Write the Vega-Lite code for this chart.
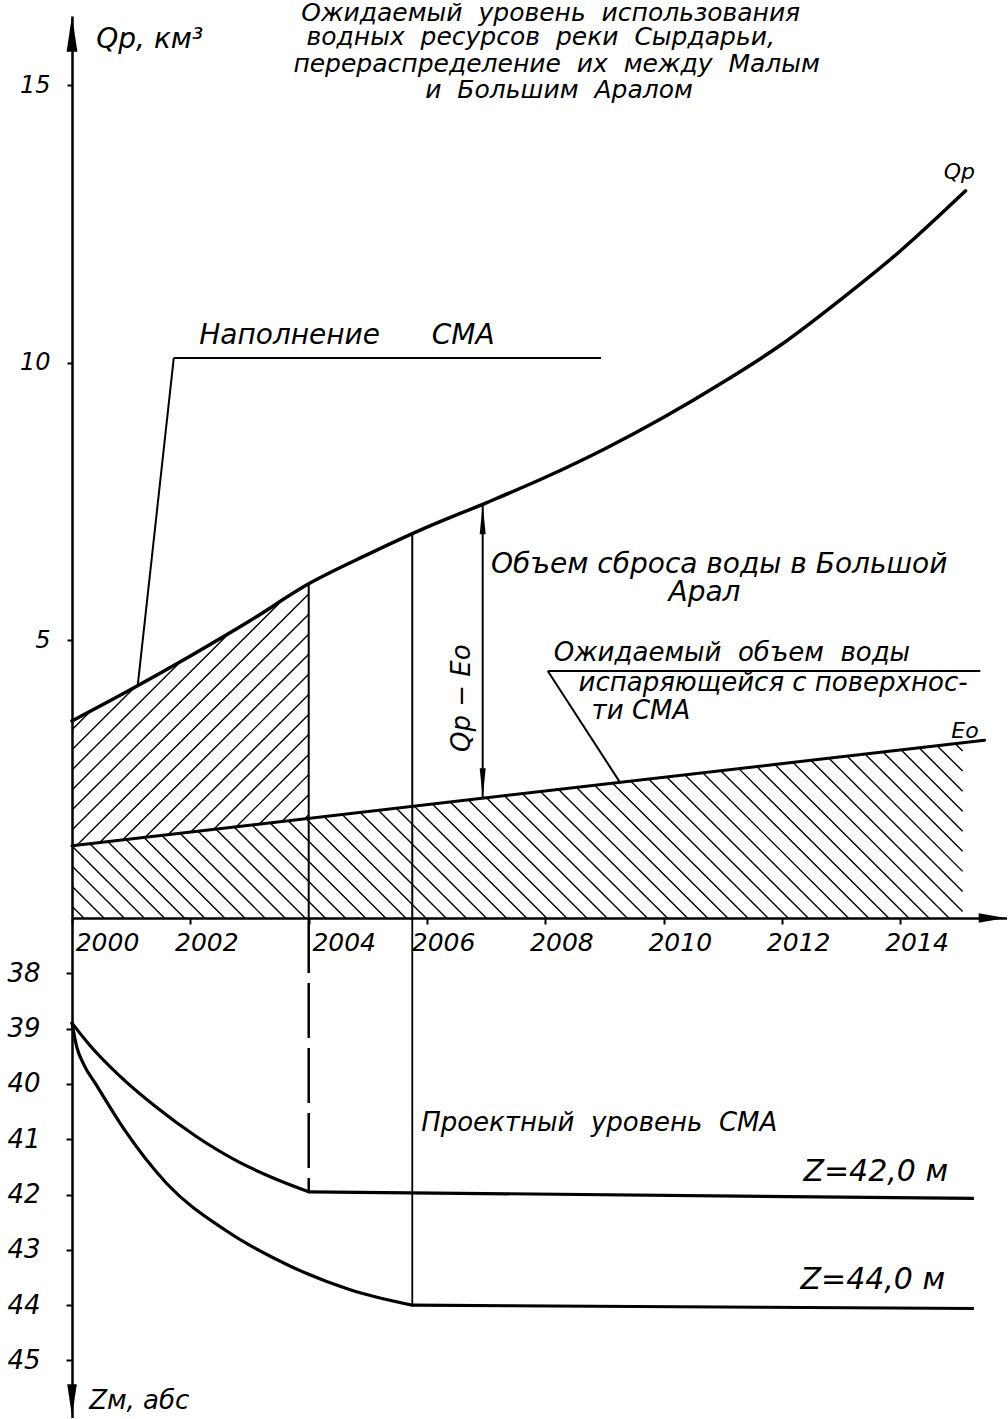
{
  "$schema": "https://vega.github.io/schema/vega-lite/v6.json",
  "autosize": {"type": "pad"},
  "padding": {"left": 6, "top": 0, "right": 0, "bottom": 0},
  "background": "white",
  "bounds": "flush",
  "spacing": 0,
  "config": {
    "view": {"stroke": null},
    "axis": {"domainColor": "black", "domainWidth": 2.5, "tickColor": "black", "tickWidth": 2, "grid": false, "labelColor": "black", "labelFont": "DejaVu Sans", "labelFontStyle": "italic", "zindex": 1},
    "text": {"font": "DejaVu Sans", "fontStyle": "italic", "color": "black"}
  },
  "datasets": {
    "qp": [
      {"x": 2000, "y": 3.55}, {"x": 2001, "y": 4.12}, {"x": 2002, "y": 4.72}, {"x": 2003, "y": 5.35},
      {"x": 2004, "y": 6.02}, {"x": 2005, "y": 6.55}, {"x": 2006, "y": 7.04}, {"x": 2007, "y": 7.48},
      {"x": 2008, "y": 7.94}, {"x": 2009, "y": 8.45}, {"x": 2010, "y": 9.02}, {"x": 2011, "y": 9.65},
      {"x": 2012, "y": 10.34}, {"x": 2013, "y": 11.15}, {"x": 2014, "y": 12.02}, {"x": 2015.1, "y": 13.10}
    ],
    "eo": [{"x": 2000, "y": 1.30}, {"x": 2015.42, "y": 3.204}],
    "hatchB": [
      {"x": 2000, "y": 0.213, "x2": 2000.20, "y2": 0},
      {"x": 2000, "y": 0.574, "x2": 2000.54, "y2": 0},
      {"x": 2000, "y": 0.935, "x2": 2000.88, "y2": 0},
      {"x": 2000, "y": 1.297, "x2": 2001.22, "y2": 0},
      {"x": 2000.302, "y": 1.337, "x2": 2001.56, "y2": 0},
      {"x": 2000.607, "y": 1.375, "x2": 2001.90, "y2": 0},
      {"x": 2000.911, "y": 1.413, "x2": 2002.24, "y2": 0},
      {"x": 2001.216, "y": 1.450, "x2": 2002.58, "y2": 0},
      {"x": 2001.520, "y": 1.488, "x2": 2002.92, "y2": 0},
      {"x": 2001.825, "y": 1.525, "x2": 2003.26, "y2": 0},
      {"x": 2002.130, "y": 1.563, "x2": 2003.60, "y2": 0},
      {"x": 2002.434, "y": 1.601, "x2": 2003.94, "y2": 0},
      {"x": 2002.739, "y": 1.638, "x2": 2004.28, "y2": 0},
      {"x": 2003.043, "y": 1.676, "x2": 2004.62, "y2": 0},
      {"x": 2003.348, "y": 1.713, "x2": 2004.96, "y2": 0},
      {"x": 2003.653, "y": 1.751, "x2": 2005.30, "y2": 0},
      {"x": 2003.957, "y": 1.789, "x2": 2005.64, "y2": 0},
      {"x": 2004.262, "y": 1.826, "x2": 2005.98, "y2": 0},
      {"x": 2004.566, "y": 1.864, "x2": 2006.32, "y2": 0},
      {"x": 2004.871, "y": 1.902, "x2": 2006.66, "y2": 0},
      {"x": 2005.176, "y": 1.939, "x2": 2007.00, "y2": 0},
      {"x": 2005.480, "y": 1.977, "x2": 2007.34, "y2": 0},
      {"x": 2005.785, "y": 2.014, "x2": 2007.68, "y2": 0},
      {"x": 2006.089, "y": 2.052, "x2": 2008.02, "y2": 0},
      {"x": 2006.394, "y": 2.090, "x2": 2008.36, "y2": 0},
      {"x": 2006.699, "y": 2.127, "x2": 2008.70, "y2": 0},
      {"x": 2007.003, "y": 2.165, "x2": 2009.04, "y2": 0},
      {"x": 2007.308, "y": 2.202, "x2": 2009.38, "y2": 0},
      {"x": 2007.612, "y": 2.240, "x2": 2009.72, "y2": 0},
      {"x": 2007.917, "y": 2.278, "x2": 2010.06, "y2": 0},
      {"x": 2008.222, "y": 2.315, "x2": 2010.40, "y2": 0},
      {"x": 2008.526, "y": 2.353, "x2": 2010.74, "y2": 0},
      {"x": 2008.831, "y": 2.391, "x2": 2011.08, "y2": 0},
      {"x": 2009.135, "y": 2.428, "x2": 2011.42, "y2": 0},
      {"x": 2009.440, "y": 2.466, "x2": 2011.76, "y2": 0},
      {"x": 2009.745, "y": 2.503, "x2": 2012.10, "y2": 0},
      {"x": 2010.049, "y": 2.541, "x2": 2012.44, "y2": 0},
      {"x": 2010.354, "y": 2.579, "x2": 2012.78, "y2": 0},
      {"x": 2010.658, "y": 2.616, "x2": 2013.12, "y2": 0},
      {"x": 2010.963, "y": 2.654, "x2": 2013.46, "y2": 0},
      {"x": 2011.268, "y": 2.691, "x2": 2013.80, "y2": 0},
      {"x": 2011.572, "y": 2.729, "x2": 2014.14, "y2": 0},
      {"x": 2011.877, "y": 2.767, "x2": 2014.48, "y2": 0},
      {"x": 2012.181, "y": 2.804, "x2": 2014.82, "y2": 0},
      {"x": 2012.486, "y": 2.842, "x2": 2015.05, "y2": 0.117},
      {"x": 2012.791, "y": 2.879, "x2": 2015.05, "y2": 0.478},
      {"x": 2013.095, "y": 2.917, "x2": 2015.05, "y2": 0.840},
      {"x": 2013.400, "y": 2.955, "x2": 2015.05, "y2": 1.201},
      {"x": 2013.704, "y": 2.992, "x2": 2015.05, "y2": 1.563},
      {"x": 2014.009, "y": 3.030, "x2": 2015.05, "y2": 1.924},
      {"x": 2014.314, "y": 3.068, "x2": 2015.05, "y2": 2.285},
      {"x": 2014.618, "y": 3.105, "x2": 2015.05, "y2": 2.647},
      {"x": 2014.923, "y": 3.143, "x2": 2015.05, "y2": 3.008}
    ],
    "hatchA": [
      {"x": 2003.930, "y": 1.785, "x2": 2004, "y2": 1.860},
      {"x": 2003.545, "y": 1.738, "x2": 2004, "y2": 2.221},
      {"x": 2003.161, "y": 1.690, "x2": 2004, "y2": 2.583},
      {"x": 2002.776, "y": 1.643, "x2": 2004, "y2": 2.944},
      {"x": 2002.391, "y": 1.595, "x2": 2004, "y2": 3.306},
      {"x": 2002.007, "y": 1.548, "x2": 2004, "y2": 3.667},
      {"x": 2001.622, "y": 1.500, "x2": 2004, "y2": 4.028},
      {"x": 2001.237, "y": 1.453, "x2": 2004, "y2": 4.390},
      {"x": 2000.853, "y": 1.405, "x2": 2004, "y2": 4.751},
      {"x": 2000.468, "y": 1.358, "x2": 2004, "y2": 5.113},
      {"x": 2000.083, "y": 1.310, "x2": 2004, "y2": 5.474},
      {"x": 2000, "y": 1.584, "x2": 2004, "y2": 5.836},
      {"x": 2000, "y": 1.945, "x2": 2004, "y2": 6.197},
      {"x": 2000, "y": 2.307, "x2": 2004, "y2": 6.558},
      {"x": 2000, "y": 2.668, "x2": 2004, "y2": 6.920},
      {"x": 2000, "y": 3.030, "x2": 2004, "y2": 7.281},
      {"x": 2000, "y": 3.391, "x2": 2004, "y2": 7.643}
    ],
    "segs": [
      {"x": 2004, "y": 0, "x2": 2004, "y2": 6.02},
      {"x": 2005.75, "y": 0, "x2": 2005.75, "y2": 6.93},
      {"x": 2001.72, "y": 10.09, "x2": 2008.94, "y2": 10.09},
      {"x": 2001.72, "y": 10.09, "x2": 2001.11, "y2": 4.18},
      {"x": 2008.04, "y": 4.45, "x2": 2015.35, "y2": 4.45},
      {"x": 2008.04, "y": 4.45, "x2": 2009.26, "y2": 2.444},
      {"x": 2006.94, "y": 2.157, "x2": 2006.94, "y2": 7.455}
    ],
    "titleText": [
      {"x": 2008.09, "y": 16.16, "text": "Ожидаемый\u00a0 уровень\u00a0 использования"},
      {"x": 2007.92, "y": 15.73, "text": "водных\u00a0 ресурсов\u00a0 реки\u00a0 Сырдарьи,"},
      {"x": 2008.19, "y": 15.24, "text": "перераспределение\u00a0 их\u00a0 между\u00a0 Малым"},
      {"x": 2008.23, "y": 14.77, "text": "и\u00a0 Большим\u00a0 Аралом"}
    ],
    "bigText": [
      {"x": 2002.15, "y": 10.34, "text": "Наполнение"},
      {"x": 2006.08, "y": 10.34, "text": "СМА"},
      {"x": 2007.08, "y": 6.22, "text": "Объем сброса воды в Большой"},
      {"x": 2010.08, "y": 5.71, "text": "Арал"},
      {"x": 2000.41, "y": 15.68, "text": "Qp, км³"}
    ],
    "midText": [
      {"x": 2008.14, "y": 4.63, "text": "Ожидаемый\u00a0 объем\u00a0 воды"},
      {"x": 2008.56, "y": 4.09, "text": "испаряющейся с поверхнос-"},
      {"x": 2008.78, "y": 3.59, "text": "ти СМА"}
    ],
    "smallText": [
      {"x": 2014.86, "y": 3.24, "text": "Eo"},
      {"x": 2014.73, "y": 13.32, "text": "Qp"}
    ],
    "rotText": [{"x": 2006.59, "y": 3.96, "text": "Qp − Eo"}],
    "arrowUp": [{"x": 2000, "y": 15.93}],
    "arrowRight": [{"x": 2015.55, "y": 0}],
    "arrowSmallUp": [{"x": 2006.94, "y": 7.185}],
    "arrowSmallDown": [{"x": 2006.94, "y": 2.427}],
    "z42": [
      {"x": 2000, "y": 38.9}, {"x": 2000.3, "y": 39.3}, {"x": 2000.8, "y": 39.85}, {"x": 2001.4, "y": 40.4},
      {"x": 2002.1, "y": 40.95}, {"x": 2002.8, "y": 41.4}, {"x": 2003.4, "y": 41.7}, {"x": 2004.0, "y": 41.95}
    ],
    "z44": [
      {"x": 2000, "y": 38.9}, {"x": 2000.08, "y": 39.33}, {"x": 2000.2, "y": 39.65}, {"x": 2000.4, "y": 40.0},
      {"x": 2000.9, "y": 40.85}, {"x": 2001.6, "y": 41.8}, {"x": 2002.6, "y": 42.65}, {"x": 2003.7, "y": 43.3},
      {"x": 2004.7, "y": 43.72}, {"x": 2005.75, "y": 44.0}
    ],
    "bflat": [
      {"x": 2004, "y": 41.95, "x2": 2015.24, "y2": 42.07},
      {"x": 2005.75, "y": 44.0, "x2": 2015.24, "y2": 44.06}
    ],
    "bvert": [{"x": 2005.75, "y": 37.0, "x2": 2005.75, "y2": 44.0}],
    "bdash": [{"x": 2004, "y": 37.0, "x2": 2004, "y2": 41.95}],
    "arrowDown": [{"x": 2000, "y": 45.72}],
    "bText": [
      {"x": 2005.90, "y": 40.85, "text": "Проектный\u00a0 уровень\u00a0 СМА"},
      {"x": 2000.29, "y": 45.88, "text": "Zм, абс"}
    ],
    "zText": [
      {"x": 2012.36, "y": 41.76, "text": "Z=42,0 м"},
      {"x": 2012.31, "y": 43.71, "text": "Z=44,0 м"}
    ]
  },
  "vconcat": [
    {
      "width": 935,
      "height": 902,
      "encoding": {
        "x": {"field": "x", "type": "quantitative", "scale": {"domain": [2000, 2015.8], "nice": false, "zero": false},
          "axis": {"values": [2000, 2002, 2004, 2006, 2008, 2010, 2012, 2014], "format": "d", "title": null, "zindex": 2, "tickSize": 6, "labelFontSize": 25, "labelPadding": 6, "labelAlign": "center", "labelFlush": false, "labelOverlap": false,
            "labelOffset": {"condition": {"test": "datum.value == 2000 || datum.value == 2004", "value": 35}, "value": 16}}},
        "y": {"field": "y", "type": "quantitative", "scale": {"domain": [0, 16.25], "nice": false, "zero": false},
          "axis": {"values": [5, 10, 15], "title": null, "zindex": 2, "tickSize": 5, "labelFontSize": 24, "labelPadding": 17}}
      },
      "layer": [
        {"data": {"name": "hatchB"}, "mark": {"type": "rule", "color": "black", "strokeWidth": 1.4}, "encoding": {"x2": {"field": "x2"}, "y2": {"field": "y2"}}},
        {"data": {"name": "hatchA"}, "mark": {"type": "rule", "color": "black", "strokeWidth": 1.4}, "encoding": {"x2": {"field": "x2"}, "y2": {"field": "y2"}}},
        {"data": {"name": "qp"}, "mark": {"type": "area", "color": "white", "opacity": 1, "interpolate": "monotone"}, "encoding": {"y2": {"datum": 8.5}}},
        {"data": {"name": "qp"}, "mark": {"type": "line", "color": "black", "strokeWidth": 3.5, "interpolate": "monotone", "strokeCap": "round"}, "encoding": {}},
        {"data": {"name": "eo"}, "mark": {"type": "line", "color": "black", "strokeWidth": 3, "strokeCap": "round"}, "encoding": {}},
        {"data": {"name": "segs"}, "mark": {"type": "rule", "color": "black", "strokeWidth": 2}, "encoding": {"x2": {"field": "x2"}, "y2": {"field": "y2"}}},
        {"data": {"name": "arrowUp"}, "mark": {"type": "point", "shape": "M0,-1L0.3,1L-0.3,1Z", "size": 1300, "filled": true, "color": "black", "opacity": 1}, "encoding": {}},
        {"data": {"name": "arrowRight"}, "mark": {"type": "point", "shape": "M1,0L-1,-0.35L-1,0.35Z", "size": 729, "filled": true, "color": "black", "opacity": 1}, "encoding": {}},
        {"data": {"name": "arrowSmallUp"}, "mark": {"type": "point", "shape": "M0,-1L0.2,1L-0.2,1Z", "size": 900, "filled": true, "color": "black", "opacity": 1}, "encoding": {}},
        {"data": {"name": "arrowSmallDown"}, "mark": {"type": "point", "shape": "M0,1L0.2,-1L-0.2,-1Z", "size": 900, "filled": true, "color": "black", "opacity": 1}, "encoding": {}},
        {"data": {"name": "titleText"}, "mark": {"type": "text", "align": "center", "baseline": "alphabetic", "fontSize": 25}, "encoding": {"text": {"field": "text"}}},
        {"data": {"name": "bigText"}, "mark": {"type": "text", "align": "left", "baseline": "alphabetic", "fontSize": 28}, "encoding": {"text": {"field": "text"}}},
        {"data": {"name": "midText"}, "mark": {"type": "text", "align": "left", "baseline": "alphabetic", "fontSize": 26}, "encoding": {"text": {"field": "text"}}},
        {"data": {"name": "smallText"}, "mark": {"type": "text", "align": "left", "baseline": "alphabetic", "fontSize": 22}, "encoding": {"text": {"field": "text"}}},
        {"data": {"name": "rotText"}, "mark": {"type": "text", "align": "center", "baseline": "middle", "fontSize": 26, "angle": 270}, "encoding": {"text": {"field": "text"}}}
      ]
    },
    {
      "width": 935,
      "height": 500,
      "encoding": {
        "x": {"field": "x", "type": "quantitative", "scale": {"domain": [2000, 2015.8], "nice": false, "zero": false}, "axis": null},
        "y": {"field": "y", "type": "quantitative", "scale": {"domain": [37.0, 46.04], "reverse": true, "nice": false, "zero": false},
          "axis": {"values": [38, 39, 40, 41, 42, 43, 44, 45], "title": null, "zindex": 2, "tickSize": 6, "labelFontSize": 26, "labelPadding": 26}}
      },
      "layer": [
        {"data": {"name": "z42"}, "mark": {"type": "line", "color": "black", "strokeWidth": 3.2, "interpolate": "monotone", "strokeCap": "round"}, "encoding": {}},
        {"data": {"name": "z44"}, "mark": {"type": "line", "color": "black", "strokeWidth": 3.2, "interpolate": "monotone", "strokeCap": "round"}, "encoding": {}},
        {"data": {"name": "bflat"}, "mark": {"type": "rule", "color": "black", "strokeWidth": 3.2}, "encoding": {"x2": {"field": "x2"}, "y2": {"field": "y2"}}},
        {"data": {"name": "bvert"}, "mark": {"type": "rule", "color": "black", "strokeWidth": 1.8}, "encoding": {"x2": {"field": "x2"}, "y2": {"field": "y2"}}},
        {"data": {"name": "bdash"}, "mark": {"type": "rule", "color": "black", "strokeWidth": 2.5, "strokeDash": [55, 10]}, "encoding": {"x2": {"field": "x2"}, "y2": {"field": "y2"}}},
        {"data": {"name": "arrowDown"}, "mark": {"type": "point", "shape": "M0,1L0.3,-1L-0.3,-1Z", "size": 1024, "filled": true, "color": "black", "opacity": 1}, "encoding": {}},
        {"data": {"name": "bText"}, "mark": {"type": "text", "align": "left", "baseline": "alphabetic", "fontSize": 26}, "encoding": {"text": {"field": "text"}}},
        {"data": {"name": "zText"}, "mark": {"type": "text", "align": "left", "baseline": "alphabetic", "fontSize": 30}, "encoding": {"text": {"field": "text"}}}
      ]
    }
  ],
  "resolve": {"scale": {"x": "independent", "y": "independent"}}
}
